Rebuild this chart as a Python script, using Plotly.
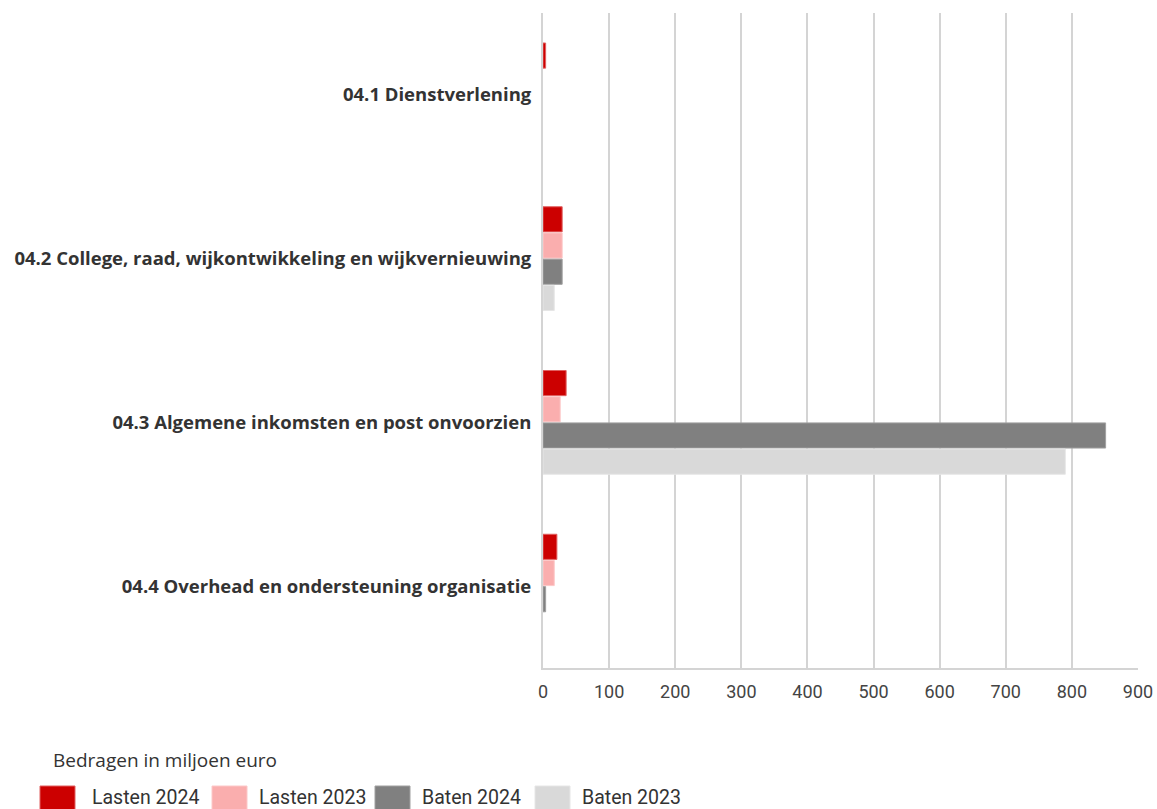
import plotly.graph_objects as go

categories = [
    "04.1 Dienstverlening",
    "04.2 College, raad, wijkontwikkeling en wijkvernieuwing",
    "04.3 Algemene inkomsten en post onvoorzien",
    "04.4 Overhead en ondersteuning organisatie",
]
lasten_2024 = [4, 29, 35, 21]
lasten_2023 = [0, 29, 26, 17]
baten_2024 = [0, 29, 851, 4]
baten_2023 = [0, 17, 790, 0]
tick_values = [0, 100, 200, 300, 400, 500, 600, 700, 800, 900]
legend_title = "Bedragen in miljoen euro"

series = [
    ("Lasten 2024", lasten_2024, "#CC0000", "#E06060"),
    ("Lasten 2023", lasten_2023, "#FAAEAE", "#FCC8C8"),
    ("Baten 2024", baten_2024, "#808080", "#A0A0A0"),
    ("Baten 2023", baten_2023, "#D9D9D9", "#E6E6E6"),
]

W, H = 1157, 809
# plot area in screen pixels
PL, PR, PT, PB = 543, 1138, 13, 668
def px(x):
    return (x - PL) / (PR - PL)
def py(y):
    return (PB - y) / (PB - PT)

fig = go.Figure()
for name, vals, col, edge in series:
    fig.add_trace(go.Bar(
        y=categories, x=vals, name=name, orientation="h", showlegend=False,
        marker=dict(color=col, line=dict(color=edge, width=[0 if v == 0 else 1 for v in vals])),
    ))

# custom legend (large swatches like the reference)
swatch_x = [40, 212, 375, 535]
text_x = [90, 257, 420, 580]
shapes = []
annotations = []
for (name, vals, col, edge), sx, tx in zip(series, swatch_x, text_x):
    shapes.append(dict(type="rect", xref="paper", yref="paper",
                       x0=px(sx), x1=px(sx + 35), y0=py(812), y1=py(786),
                       fillcolor=col, line=dict(color=edge, width=1)))
    annotations.append(dict(text=name, xref="paper", yref="paper",
                            x=px(tx), y=py(797), xanchor="left", yanchor="middle",
                            showarrow=False,
                            font=dict(family="Roboto", size=19.5, color="#333333")))
annotations.append(dict(text=legend_title, xref="paper", yref="paper",
                        x=px(51), y=py(760), xanchor="left", yanchor="middle",
                        showarrow=False,
                        font=dict(family="Open Sans", size=19, color="#333333")))

fig.update_layout(
    width=W, height=H, autosize=False,
    barmode="group", bargap=0.36, bargroupgap=0.04,
    paper_bgcolor="white", plot_bgcolor="white",
    margin=dict(l=PL, r=W - PR, t=PT, b=H - PB, autoexpand=False),
    font=dict(family="Open Sans", color="#333333"),
    showlegend=False,
    xaxis=dict(
        range=[0, 900], tickvals=tick_values, showgrid=True,
        gridcolor="#D4D4D4", gridwidth=2, zeroline=False,
        showline=True, linecolor="#D4D4D4", linewidth=2,
        tickfont=dict(family="Roboto", size=18, color="#444444"),
        ticks="", ticklen=0, ticklabelstandoff=6, automargin=False,
    ),
    yaxis=dict(
        autorange="reversed", showline=True, linecolor="#D4D4D4", linewidth=2,
        tickfont=dict(family="Open Sans", size=18.5, color="#333333", weight="bold"),
        ticks="", ticklabelstandoff=6, showgrid=False, automargin=False,
    ),
    shapes=shapes,
    annotations=annotations,
)

fig.write_html(
    "out.html",
    config={"responsive": False, "displayModeBar": False},
    post_script=(
        "document.body.style.margin='0';"
        "document.body.style.overflow='hidden';"
    ),
)
